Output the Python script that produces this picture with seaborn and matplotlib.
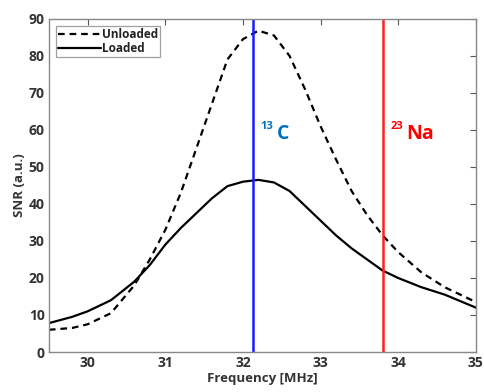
import pandas as pd
import matplotlib
matplotlib.use("Agg")
import matplotlib.pyplot as plt
import seaborn as sns

freq_unloaded = [29.5, 29.8, 30.0, 30.3, 30.6, 30.8, 31.0, 31.2, 31.4, 31.6, 31.8, 32.0,
                 32.2, 32.4, 32.6, 32.8, 33.0, 33.2, 33.4, 33.6, 33.8, 34.0, 34.3, 34.6, 35.0]
snr_unloaded = [6.0, 6.5, 7.5, 10.5, 18.0, 25.0, 33.0, 43.0, 55.0, 67.0, 79.0, 84.5,
                86.8, 85.5, 80.0, 71.0, 61.0, 52.0, 43.5, 37.0, 31.5, 27.0, 21.5, 17.5, 13.5]

freq_loaded = [29.5, 29.8, 30.0, 30.3, 30.6, 30.8, 31.0, 31.2, 31.4, 31.6, 31.8, 32.0,
               32.2, 32.4, 32.6, 32.8, 33.0, 33.2, 33.4, 33.6, 33.8, 34.0, 34.3, 34.6, 35.0]
snr_loaded = [7.8, 9.5, 11.0, 14.0, 19.0, 23.5, 29.0, 33.5, 37.5, 41.5, 44.8, 46.0,
              46.5, 45.8, 43.5, 39.5, 35.5, 31.5, 28.0, 25.0, 22.0, 20.0, 17.5, 15.5, 12.0]

c13_freq = 32.13
na23_freq = 33.8

sns.set_style("white")
plt.rcParams['font.family'] = ['Open Sans', 'DejaVu Sans']
plt.rcParams['font.weight'] = 'bold'

df = pd.concat([
    pd.DataFrame({'freq': freq_unloaded, 'snr': snr_unloaded, 'coil': 'Unloaded'}),
    pd.DataFrame({'freq': freq_loaded, 'snr': snr_loaded, 'coil': 'Loaded'}),
])

fig = plt.figure(figsize=(4.84, 3.92), dpi=100)
ax = fig.add_axes([0.101, 0.102, 0.882, 0.85])

sns.lineplot(data=df, x='freq', y='snr', hue='coil', style='coil',
             palette={'Unloaded': 'black', 'Loaded': 'black'},
             dashes={'Unloaded': (3, 2.2), 'Loaded': ''},
             linewidth=1.6, sort=False, ax=ax)

ax.axvline(c13_freq, color='#1a1aff', linewidth=1.8)
ax.axvline(na23_freq, color='#ff2020', linewidth=1.8)
# isotope labels: small superscript mass number + element symbol
ax.text(c13_freq + 0.10, 60.3, '13', color='#0070c0', fontsize=8, fontweight='bold')
ax.text(c13_freq + 0.31, 57.5, 'C', color='#0070c0', fontsize=14, fontweight='bold')
ax.text(na23_freq + 0.10, 60.3, '23', color='#ff0000', fontsize=8, fontweight='bold')
ax.text(na23_freq + 0.31, 57.5, 'Na', color='#ff0000', fontsize=14, fontweight='bold')

ax.set_xlim(29.5, 35)
ax.set_ylim(0, 90)
ax.set_xticks([30, 31, 32, 33, 34, 35])
ax.set_yticks(range(0, 91, 10))
ax.tick_params(direction='in', top=True, right=True, length=4, width=0.8,
               color='#555555', labelsize=10, labelcolor='#333333', pad=3)
for lbl in ax.get_xticklabels() + ax.get_yticklabels():
    lbl.set_fontweight('bold')
for sp in ax.spines.values():
    sp.set_color('#888888')
    sp.set_linewidth(1.0)

ax.set_xlabel('Frequency [MHz]', fontsize=9.5, fontweight='bold', color='#333333', labelpad=1)
ax.set_ylabel('SNR (a.u.)', fontsize=9.5, fontweight='bold', color='#333333', labelpad=2)

leg = ax.legend(loc='upper left', fontsize=8.5, handlelength=3.6, handletextpad=0.1,
                borderpad=0.2, labelspacing=0.05, frameon=True, fancybox=False,
                borderaxespad=0.6)
leg.get_frame().set_edgecolor('#888888')
leg.get_frame().set_linewidth(0.9)
for t in leg.get_texts():
    t.set_fontweight('bold')
    t.set_color('#222222')

fig.savefig('out.png', dpi=100)
